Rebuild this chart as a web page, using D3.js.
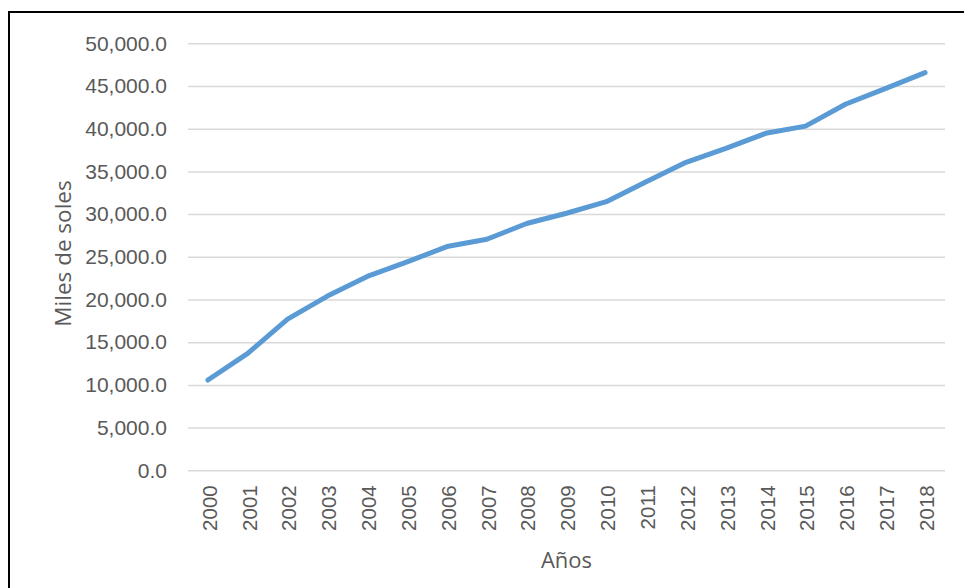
<!DOCTYPE html>
<html>
<head>
<meta charset="utf-8">
<script src="https://cdn.jsdelivr.net/npm/d3@7"></script>
<style>
  body { margin: 0; background: #fff; }
  svg { display: block; font-family: "Open Sans", "Noto Sans", sans-serif; }
  .grid line { stroke: #d9d9d9; stroke-width: 1.5; }
  .tick text { fill: #595959; font-size: 21px; }
  .xaxis .tick text { font-size: 20.5px; }
  .line { fill: none; stroke: #5b9bd5; stroke-width: 5; stroke-linecap: round; stroke-linejoin: round; }
</style>
</head>
<body>
<div id="chart"></div>
<script>
// years on the x axis
var years = ["2000", "2001", "2002", "2003", "2004", "2005", "2006", "2007", "2008", "2009",
  "2010", "2011", "2012", "2013", "2014", "2015", "2016", "2017", "2018"];

// miles de soles
var values = [10570, 13700, 17700, 20400, 22700, 24400, 26200, 27050, 28900, 30100,
  31450, 33800, 36060, 37700, 39460, 40300, 42860, 44700, 46560];

var yTicks = [0, 5000, 10000, 15000, 20000, 25000, 30000, 35000, 40000, 45000, 50000];

var W = 964, H = 588;
var margin = { top: 43.3, right: 19, bottom: 117.7, left: 188 },
  width = W - margin.left - margin.right,
  height = H - margin.top - margin.bottom;

var svg = d3.select("#chart").append("svg")
  .attr("width", W)
  .attr("height", H);

// frame of the chart area
svg.append("rect")
  .attr("x", 9)
  .attr("y", 12)
  .attr("width", W + 10)
  .attr("height", H + 10)
  .attr("fill", "none")
  .attr("stroke", "#000")
  .attr("stroke-width", 2);

var g = svg.append("g")
  .attr("transform", "translate(" + margin.left + "," + margin.top + ")");

var x = d3.scaleBand().domain(years).range([0, width]);
var y = d3.scaleLinear().domain([0, 50000]).range([height, 0]);

// y axis + gridlines
var yAxis = g.append("g")
  .attr("class", "grid")
  .call(d3.axisLeft(y)
    .tickValues(yTicks)
    .tickSize(-width)
    .tickPadding(21)
    .tickFormat(d3.format(",.1f")));
yAxis.select(".domain").remove();

// x axis labels, rotated
var xAxis = g.append("g")
  .attr("class", "xaxis")
  .attr("transform", "translate(0," + height + ")")
  .call(d3.axisBottom(x).tickSize(0));
xAxis.select(".domain").remove();
xAxis.selectAll("text")
  .attr("transform", "rotate(-90)")
  .attr("text-anchor", "end")
  .attr("x", -15)
  .attr("y", 1)
  .attr("dy", "0.38em");

// line
var valueline = d3.line()
  .x(function (d, i) { return x(years[i]) + x.bandwidth() / 2; })
  .y(function (d) { return y(d); });

g.append("path")
  .datum(values)
  .attr("class", "line")
  .attr("d", valueline);

// axis titles
svg.append("text")
  .attr("transform", "translate(71,253.5) rotate(-90)")
  .attr("text-anchor", "middle")
  .attr("fill", "#595959")
  .style("font-size", "22.5px")
  .text("Miles de soles");

svg.append("text")
  .attr("x", margin.left + width / 2)
  .attr("y", 568)
  .attr("text-anchor", "middle")
  .attr("fill", "#595959")
  .style("font-size", "22px")
  .text("Años");
</script>
</body>
</html>
